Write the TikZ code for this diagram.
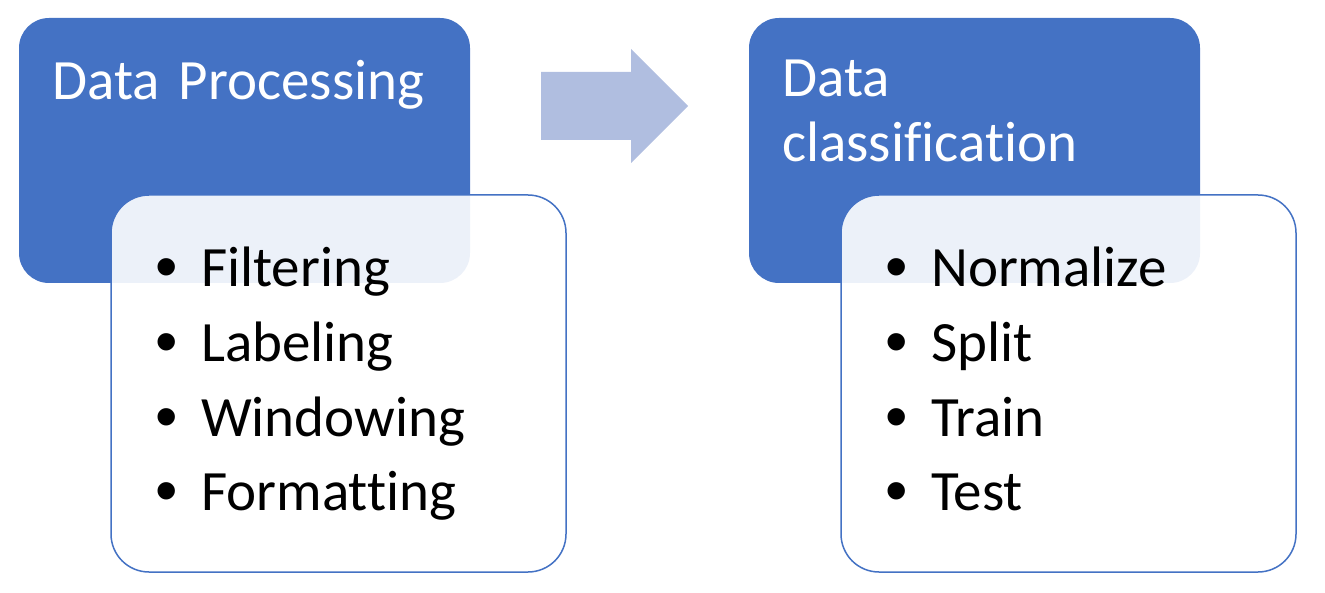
\documentclass[tikz,border=0pt]{standalone}
\usepackage{fontspec}
\setmainfont{Carlito}[RawFeature={-liga}]
\newfontfamily\bulfont{Liberation Sans}
\usepackage{tikz}
\usetikzlibrary{positioning}

\definecolor{hdblue}{HTML}{4472C4}
\definecolor{arrowblue}{HTML}{B0BEE0}
\newcommand{\bul}{\makebox[46pt][l]{\raisebox{-2pt}{\fontsize{64}{68}\bulfont\textbullet}}}

\begin{document}
\begin{tikzpicture}[
		x=1pt, y=-1pt,
		head/.style={rectangle, rounded corners=30pt, fill=hdblue, minimum width=451pt, minimum height=265pt, inner sep=0pt},
		list/.style={rectangle, rounded corners=38pt, draw=hdblue, line width=1.5pt, fill=white, fill opacity=0.9, minimum width=455pt, minimum height=377pt, inner sep=0pt},
		title/.style={anchor=north west, inner sep=0pt, text=white, text width=385pt, align=left, font=\fontsize{57}{65}\selectfont},
		item/.style={anchor=base west, inner sep=0pt, font=\fontsize{57}{68}\selectfont}
	]
	\useasboundingbox (0,0) rectangle (1325,593);

	% Nodes
	\node[head] (proc) at (244.5,150.5) {};
	\node[title] (proctitle) at (52,60) {Data Processing};
	\node[list] (proclist) at (338.5,383.5) {};

	\node[head] (clas) at (974.5,150.5) {};
	\node[title] (clastitle) at (782,60) {Data\\classification};
	\node[list] (claslist) at (1068.5,383.5) {};

	\foreach \t [count=\i from 0] in {Filtering, Labeling, Windowing, Formatting}
		\node[item] (p\i) at (155,{287+74.5*\i}) {\bul\t};
	\foreach \t [count=\i from 0] in {Normalize, Split, Train, Test}
		\node[item] (c\i) at (885,{287+74.5*\i}) {\bul\t};

	% Arrow
	\fill[arrowblue] (541,72) -- (631,72) -- (631,49) -- (688,106) -- (631,163) -- (631,140) -- (541,140) -- cycle;

\end{tikzpicture}
\end{document}
